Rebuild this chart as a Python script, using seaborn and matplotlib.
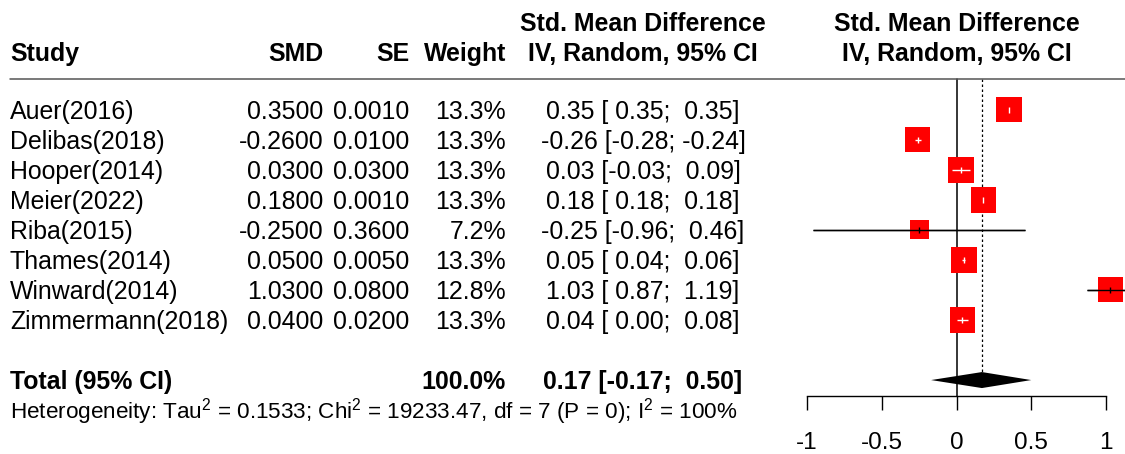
import numpy as np
import pandas as pd
import matplotlib
matplotlib.use("Agg")
import matplotlib.pyplot as plt
import matplotlib.transforms as mtransforms
import seaborn as sns

# study level data
studies = ["Auer(2016)", "Delibas(2018)", "Hooper(2014)", "Meier(2022)",
           "Riba(2015)", "Thames(2014)", "Winward(2014)", "Zimmermann(2018)"]
smd = [0.35, -0.26, 0.03, 0.18, -0.25, 0.05, 1.03, 0.04]
se = [0.0010, 0.0100, 0.0300, 0.0010, 0.3600, 0.0050, 0.0800, 0.0200]
weight = [13.3, 13.3, 13.3, 13.3, 7.2, 13.3, 12.8, 13.3]
ci_lo = [0.35, -0.28, -0.03, 0.18, -0.96, 0.04, 0.87, 0.00]
ci_hi = [0.35, -0.24, 0.09, 0.18, 0.46, 0.06, 1.19, 0.08]

# pooled result
total_est = 0.17
total_lo = -0.17
total_hi = 0.50
total_weight = 100.0
tau2 = 0.1533
chi2 = 19233.47
df_het = 7
p_het = 0
i2 = 100

xticks = [-1, -0.5, 0, 0.5, 1]
xtick_labels = ["-1", "-0.5", "0", "0.5", "1"]

sns.set_style("white")
plt.rcParams['font.family'] = ['Liberation Sans', 'DejaVu Sans']
plt.rcParams['mathtext.default'] = 'regular'
plt.rcParams['axes.unicode_minus'] = False

W, H, DPI = 1125, 454, 100
row0, step = 109.7, 30.04      # pixel y of first study row, row spacing
x0, px_unit = 956.5, 149.5     # pixel x of SMD = 0, pixels per SMD unit
axis_px = 396

fig = plt.figure(figsize=(W / DPI, H / DPI), dpi=DPI)
ax = fig.add_axes([807 / W, (H - axis_px) / H, 1 - 807 / W, axis_px / H])

df = pd.DataFrame({"study": studies, "smd": smd, "weight": weight,
                   "lo": ci_lo, "hi": ci_hi})
df["row"] = np.arange(len(df))

# half width of each box in data units (area ~ weight)
box_px = 25.5 * np.sqrt(df["weight"] / 13.3)
df["half"] = box_px / 2 / px_unit
df["inside"] = (df["lo"] >= df["smd"] - df["half"]) & (df["hi"] <= df["smd"] + df["half"])

# confidence intervals behind the boxes
ax.hlines(df["row"], df["lo"], df["hi"], color="black", lw=1.0, zorder=2)

sns.scatterplot(data=df, x="smd", y="row", size="weight", sizes=(0, 337),
                size_norm=(0, 13.3), marker="s", color="red", linewidth=0,
                legend=False, ax=ax, zorder=3)

inn = df[df["inside"]]
out = df[~df["inside"]]
ax.hlines(inn["row"], inn["lo"], inn["hi"], color="white", lw=1.0, zorder=4)
ax.hlines(out["row"], out["lo"], out["hi"], color="black", lw=1.0, zorder=4)
ax.scatter(inn["smd"], inn["row"], marker="|", s=18, color="white", lw=1.0, zorder=5)
ax.scatter(out["smd"], out["row"], marker="|", s=18, color="black", lw=1.0, zorder=5)

# pooled diamond
total_row = len(df) + 1
dh = 8 / step
ax.fill([total_lo, total_est, total_hi, total_est],
        [total_row, total_row - dh, total_row, total_row + dh],
        color="black", lw=0, zorder=3)

sep_row = (79 - row0) / step
bottom_row = (axis_px - row0) / step
ax.plot([0, 0], [sep_row, bottom_row], color="black", lw=1.1, zorder=1)
ax.plot([total_est, total_est], [sep_row, total_row - dh], color="black",
        lw=0.9, ls=(0, (2, 2)), zorder=1)

ax.set_xlim(-1, (W - x0) / px_unit)
ax.set_ylim(bottom_row, -row0 / step)
ax.set_xlabel("")
ax.set_ylabel("")
ax.set_yticks([])
ax.set_xticks(xticks, xtick_labels)
ax.tick_params(axis="x", bottom=True, length=10, width=1.0, pad=16,
               labelsize=17.5, direction="out", color="black",
               labelcolor="black")
for s in ["left", "top", "right"]:
    ax.spines[s].set_visible(False)
ax.spines["bottom"].set_bounds(-1, 1)
ax.spines["bottom"].set_linewidth(1.0)
ax.spines["bottom"].set_color("black")
ax.patch.set_alpha(0)

blend = mtransforms.blended_transform_factory(fig.transFigure, ax.transData)


def put(px, row, s, ha="left", bold=False, size=17.9, dy=0.296):
    ax.text(px / W, row + dy, s, transform=blend, ha=ha, va="baseline",
            fontsize=size, fontweight="bold" if bold else "normal",
            color="black", clip_on=False)


# header
h1, h2 = (22.5 - row0) / step, (52 - row0) / step
put(10, h2, "Study", bold=True)
put(323, h2, "SMD", ha="right", bold=True)
put(409, h2, "SE", ha="right", bold=True)
put(506, h2, "Weight", ha="right", bold=True)
put(643, h1, "Std. Mean Difference", ha="center", bold=True)
put(643, h2, "IV, Random, 95% CI", ha="center", bold=True)
put(x0, h1, "Std. Mean Difference", ha="center", bold=True)
put(x0, h2, "IV, Random, 95% CI", ha="center", bold=True)
ax.plot([10 / W, 1], [sep_row, sep_row], transform=blend, color="#555555",
        lw=1.1, clip_on=False)

for r in df.itertuples():
    put(10, r.row, r.study)
    put(323, r.row, f"{r.smd:.4f}", ha="right")
    put(409, r.row, f"{se[r.row]:.4f}", ha="right")
    put(506, r.row, f"{r.weight:.1f}%", ha="right")
    put(643, r.row, f"{r.smd:.2f} [{r.lo:5.2f}; {r.hi:5.2f}]", ha="center")

put(10, total_row, "Total (95% CI)", bold=True)
put(506, total_row, f"{total_weight:.1f}%", ha="right", bold=True)
put(643, total_row, f"{total_est:.2f} [{total_lo:5.2f}; {total_hi:5.2f}]",
    ha="center", bold=True)
het = (f"Heterogeneity: Tau$^2$ = {tau2:.4f}; Chi$^2$ = {chi2:.2f}, "
       f"df = {df_het} (P = {p_het}); I$^2$ = {i2}%")
put(10, total_row + 1, het, size=16.2, dy=0.27)

fig.savefig("out.png", dpi=DPI)
